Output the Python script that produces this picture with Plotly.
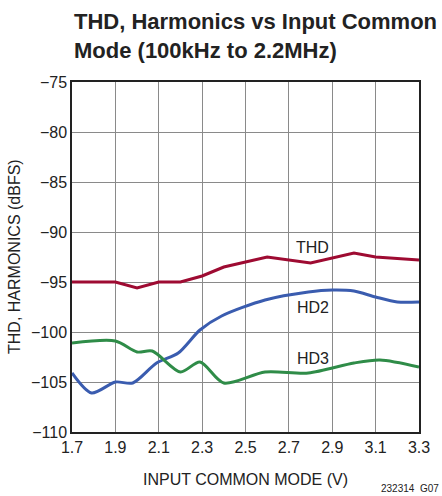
import plotly.graph_objects as go

FONT = "Liberation Sans, Arial, Helvetica, sans-serif"

thd_x = [1.7, 1.9, 2.0, 2.1, 2.2, 2.3, 2.4, 2.6, 2.8, 3.0, 3.1, 3.3]
thd_y = [-95.0, -95.0, -95.6, -95.0, -95.0, -94.4, -93.5, -92.5, -93.1, -92.1, -92.5, -92.8]

hd2_x = [1.7, 1.79, 1.9, 1.98, 2.09, 2.19, 2.29, 2.39, 2.59, 2.79, 2.9, 3.0, 3.1, 3.2, 3.3]
hd2_y = [-104.1, -106.1, -105.0, -105.1, -103.1, -102.1, -99.8, -98.4, -96.8, -96.0, -95.8, -95.9, -96.5, -97.0, -97.0]

hd3_x = [1.7, 1.9, 2.0, 2.07, 2.2, 2.29, 2.4, 2.59, 2.79, 3.0, 3.12, 3.3]
hd3_y = [-101.1, -100.9, -102.0, -101.9, -104.0, -103.0, -105.1, -104.0, -104.1, -103.1, -102.8, -103.5]

x_ticks = [1.7, 1.9, 2.1, 2.3, 2.5, 2.7, 2.9, 3.1, 3.3]
y_ticks = [-75, -80, -85, -90, -95, -100, -105, -110]

fig = go.Figure()
fig.add_trace(go.Scatter(x=thd_x, y=thd_y, mode="lines",
                         line=dict(color="#9e0b32", width=3)))
fig.add_trace(go.Scatter(x=hd2_x, y=hd2_y, mode="lines",
                         line=dict(color="#3a5caf", width=3, shape="spline", smoothing=0.8)))
fig.add_trace(go.Scatter(x=hd3_x, y=hd3_y, mode="lines",
                         line=dict(color="#2f8c48", width=3, shape="spline", smoothing=0.8)))

labels = [("THD", 2.81, -91.5), ("HD2", 2.81, -97.5), ("HD3", 2.81, -102.6)]
for t, x, y in labels:
    fig.add_annotation(x=x, y=y, text=t, showarrow=False,
                       font=dict(family=FONT, size=16, color="#222"))

fig.add_annotation(xref="paper", yref="paper", x=0, y=1, yshift=17,
                   xanchor="left", yanchor="bottom", align="left",
                   text="<b>THD, Harmonics vs Input Common<br>Mode (100kHz to 2.2MHz)</b>",
                   showarrow=False, font=dict(family=FONT, size=22, color="#222"))
fig.add_annotation(xref="paper", yref="paper", x=0.5, y=0, yshift=-37,
                   xanchor="center", yanchor="top",
                   text="INPUT COMMON MODE (V)", showarrow=False,
                   font=dict(family=FONT, size=16, color="#222"))
fig.add_annotation(xref="paper", yref="paper", x=0, y=0.5, xshift=-58,
                   xanchor="center", yanchor="middle", textangle=-90,
                   text="THD, HARMONICS (dBFS)", showarrow=False,
                   font=dict(family=FONT, size=16, color="#222"))
fig.add_annotation(xref="paper", yref="paper", x=1, y=0, xshift=22, yshift=-49,
                   xanchor="right", yanchor="top",
                   text="232314  G07", showarrow=False,
                   font=dict(family=FONT, size=10, color="#222"))

fig.update_xaxes(range=[1.7, 3.3], tickvals=x_ticks, ticktext=[f"{v:.1f}" for v in x_ticks],
                 showgrid=True, gridcolor="#8a8a8a", gridwidth=1,
                 showline=True, linecolor="#222", linewidth=1.5, mirror=True,
                 ticks="", tickfont=dict(family=FONT, size=16, color="#222"), zeroline=False)
fig.update_yaxes(range=[-110, -75], tickvals=y_ticks,
                 showgrid=True, gridcolor="#8a8a8a", gridwidth=1,
                 showline=True, linecolor="#222", linewidth=1.5, mirror=True,
                 ticks="", tickfont=dict(family=FONT, size=16, color="#222"), zeroline=False)

fig.update_layout(width=442, height=496, showlegend=False,
                  margin=dict(l=72, r=17, t=82, b=64),
                  paper_bgcolor="white", plot_bgcolor="white")
fig.write_html("out.html", config={"displayModeBar": False},
               post_script="document.body.style.margin='0';")
